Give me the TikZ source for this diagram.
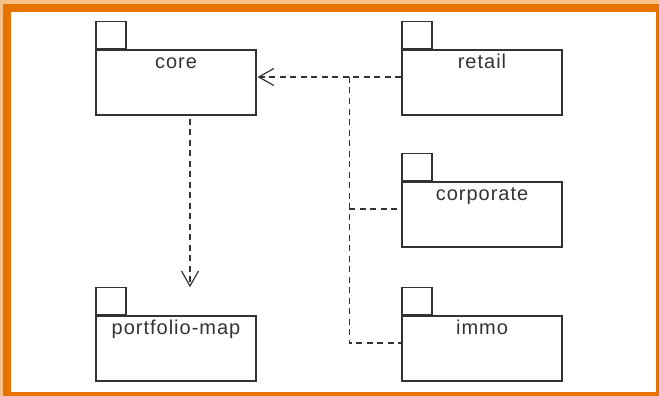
\documentclass[tikz,border=0pt]{standalone}
\usepackage{fontspec}
\setmainfont{Liberation Sans}
\newfontfamily\pkgfont[LetterSpace=5]{Liberation Sans}
\usetikzlibrary{arrows.meta,calc}
\definecolor{frm}{HTML}{E87400}
\definecolor{frmlt}{HTML}{F7C089}
\definecolor{ink}{HTML}{333333}

\tikzset{
  pkg/.style={draw=ink,line width=1.2pt,fill=white,minimum width=160pt,minimum height=65pt,inner sep=0pt},
  pkgtab/.style={draw=ink,line width=1.2pt,minimum width=30pt,minimum height=27pt,inner sep=0pt,anchor=south west},
  pkgname/.style={font=\pkgfont\fontsize{20}{24}\selectfont,text=ink,anchor=base,inner sep=0pt},
  dep/.style={draw=ink,line width=1.2pt,dash pattern=on 6pt off 4.5pt},
  open/.style={-{Straight Barb[length=15pt,width=17pt]}}
}

\begin{document}
\begin{tikzpicture}[x=1pt,y=-1pt]  % 1 unit = 1 px, y down
  \useasboundingbox (0,0) rectangle (659,396);
  % ---- frame
  \fill[frmlt] (0,0) rectangle (659,396);
  \fill[frm] (3,4) rectangle (659,396);
  \fill[white] (11,12) rectangle (656,392);
  % ---- packages
  \node[pkg] (core) at (176,82.5) {};
  \node[pkg] (pfmap) at (176,348.5) {};
  \node[pkg] (retail) at (482,82.5) {};
  \node[pkg] (corporate) at (482,214.5) {};
  \node[pkg] (immo) at (482,348.5) {};
  \foreach \p in {core,pfmap,retail,corporate,immo}
    \node[pkgtab] (\p-tab) at (\p.north west) {};
  \node[pkgname] (core-name) at ($(core.north)+(0,19)$) {core};
  \node[pkgname] (pfmap-name) at ($(pfmap.north)+(0,19)$) {portfolio-map};
  \node[pkgname] (retail-name) at ($(retail.north)+(0,19)$) {retail};
  \node[pkgname] (corporate-name) at ($(corporate.north)+(0,19)$) {corporate};
  \node[pkgname] (immo-name) at ($(immo.north)+(0,19)$) {immo};
  % ---- dependencies
  \draw[dep,open] ([xshift=14pt,yshift=-3pt]core.south) -- ([xshift=14pt]core.south |- pfmap-tab.north);
  \coordinate (jn) at ($(retail.west)+(-52,-5.5)$);
  \draw[dep,open] ([yshift=5.5pt]retail.west) -- ([xshift=1pt,yshift=5.5pt]core.east);
  \draw[dep] (jn) -- ([yshift=5.5pt]jn |- immo.west) -- ([yshift=5.5pt]immo.west);
  \draw[dep] ([yshift=5.5pt]jn |- corporate.west) -- ([yshift=5.5pt]corporate.west);
\end{tikzpicture}
\end{document}
